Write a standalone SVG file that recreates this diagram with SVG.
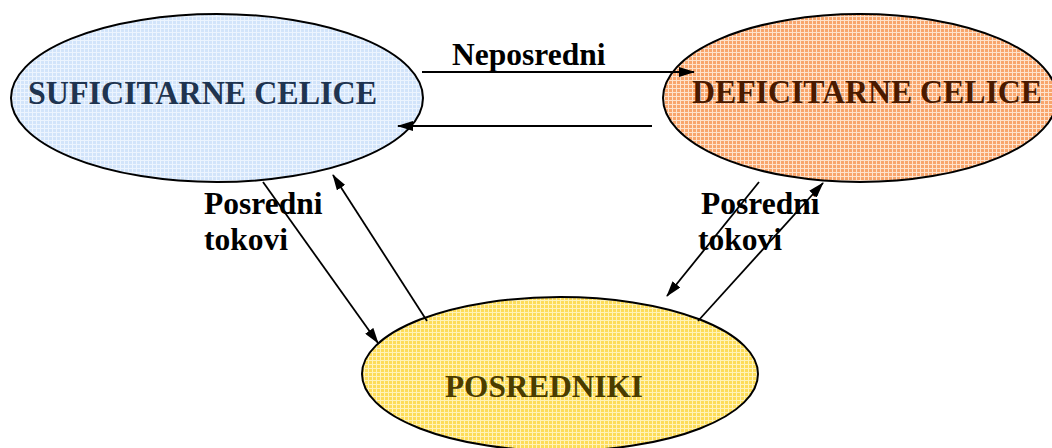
<svg xmlns="http://www.w3.org/2000/svg" width="1052" height="448" viewBox="0 0 1052 448">
  <style>
    .node { stroke: #000; stroke-width: 2; }
    .name { font-family: "Liberation Serif", "Times New Roman", serif; font-weight: bold; }
    .label { font-family: "Liberation Serif", "Times New Roman", serif; font-weight: bold; font-size: 31.5px; fill: #000; }
    .flow { stroke: #000; stroke-width: 1.8; fill: none; marker-end: url(#head); }
  </style>
  <defs>
    <marker id="head" viewBox="0 0 16 10" refX="15" refY="5" markerWidth="16" markerHeight="10" markerUnits="userSpaceOnUse" orient="auto">
      <path d="M0,0 L16,5 L0,10 Z" fill="#000"/>
    </marker>
    <!-- fine check textures for the fills -->
    <pattern id="checkBlue" width="4" height="4" patternUnits="userSpaceOnUse">
      <rect width="4" height="4" fill="#d2e4fa"/>
      <rect width="4" height="1" fill="#ecf4fe"/>
      <rect width="1" height="4" fill="#ecf4fe"/>
    </pattern>
    <pattern id="checkOrange" width="4" height="4" patternUnits="userSpaceOnUse">
      <rect width="4" height="4" fill="#f8a56c"/>
      <rect width="4" height="1" fill="#fee2cc"/>
      <rect width="1" height="4" fill="#fee2cc"/>
    </pattern>
    <pattern id="checkYellow" width="4" height="4" patternUnits="userSpaceOnUse">
      <rect width="4" height="4" fill="#fddc58"/>
      <rect width="4" height="1" fill="#fff3b8"/>
      <rect width="1" height="4" fill="#fff3b8"/>
    </pattern>
  </defs>

  <rect width="1052" height="448" fill="#fff"/>

  <g id="suficitarne">
    <ellipse class="node" cx="217" cy="98" rx="206" ry="84" fill="url(#checkBlue)"/>
    <text class="name" x="28" y="104" font-size="34" textLength="349" lengthAdjust="spacingAndGlyphs" fill="#1f3450">SUFICITARNE CELICE</text>
  </g>

  <g id="deficitarne">
    <ellipse class="node" cx="860" cy="98" rx="197" ry="84" fill="url(#checkOrange)"/>
    <text class="name" x="692" y="103" font-size="33" textLength="350" lengthAdjust="spacingAndGlyphs" fill="#4a1a00">DEFICITARNE CELICE</text>
  </g>

  <g id="posredniki">
    <ellipse class="node" cx="560" cy="374" rx="198" ry="77" fill="url(#checkYellow)"/>
    <text class="name" x="445" y="397" font-size="31" textLength="198" lengthAdjust="spacingAndGlyphs" fill="#4a3c00">POSREDNIKI</text>
  </g>

  <g id="connectors">
    <line class="flow" x1="422" y1="72" x2="694" y2="72"/>
    <line class="flow" x1="652" y1="126" x2="398" y2="126"/>
    <line class="flow" x1="263" y1="182" x2="378" y2="343"/>
    <line class="flow" x1="427" y1="321" x2="333" y2="175"/>
    <line class="flow" x1="759" y1="182" x2="667" y2="296"/>
    <line class="flow" x1="698" y1="321" x2="823" y2="183"/>
  </g>

  <g id="labels">
    <text class="label" x="452" y="65">Neposredni</text>
    <text class="label" x="204" y="214">Posredni</text>
    <text class="label" x="204" y="250">tokovi</text>
    <text class="label" x="701" y="214">Posredni</text>
    <text class="label" x="698" y="250">tokovi</text>
  </g>
</svg>
